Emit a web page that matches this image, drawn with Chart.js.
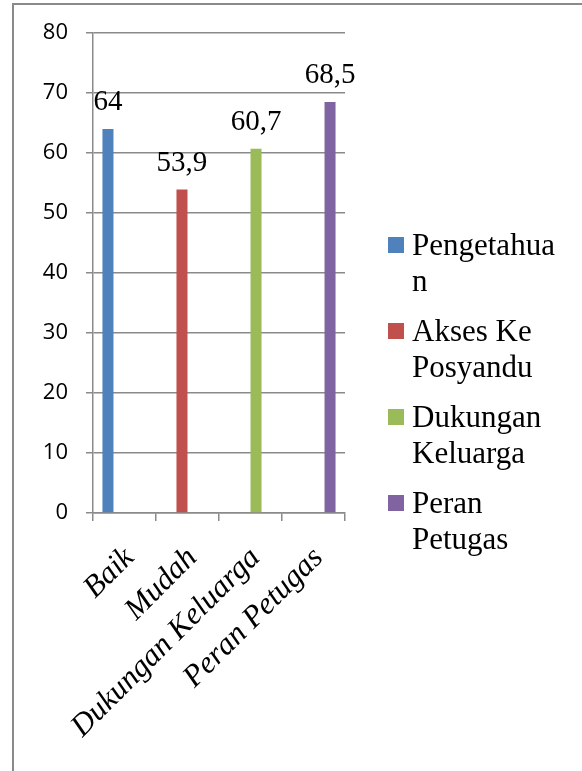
<!DOCTYPE html>
<html>
<head>
<meta charset="utf-8">
<script src="https://cdn.jsdelivr.net/npm/chart.js@4/dist/chart.umd.min.js"></script>
<style>
  html, body { margin: 0; padding: 0; background: #fff; }
  #wrap { position: relative; width: 582px; height: 771px; overflow: hidden; }
  #frame { position: absolute; left: 12px; top: 3px; right: -10px; bottom: -10px;
           border-left: 2px solid #8a8a8a; border-top: 2px solid #8a8a8a; }
  canvas { position: absolute; left: 0; top: 0; }
</style>
</head>
<body>
<div id="wrap">
  <div id="frame"></div>
  <canvas id="c" width="582" height="771"></canvas>
</div>
<script>
// ---- data ----
const categories = ['Baik', 'Mudah', 'Dukungan Keluarga', 'Peran Petugas'];
const seriesNames = ['Pengetahuan', 'Akses Ke Posyandu', 'Dukungan Keluarga', 'Peran Petugas'];
const seriesValues = [64, 53.9, 60.7, 68.5];
const seriesColors = ['#4F81BD', '#C0504D', '#9BBB59', '#8064A2'];
const yMin = 0, yMax = 80, yStep = 10;

const datasets = seriesNames.map((name, i) => ({
  label: name,
  data: categories.map((c, j) => (j === i ? seriesValues[i] : null)),
  backgroundColor: seriesColors[i],
  borderWidth: 0,
  categoryPercentage: 0.7,
  barPercentage: 1.0
}));

const GRID = '#8a8a8a';

function fmt(v) { return String(v).replace('.', ','); }

const valueLabels = {
  id: 'valueLabels',
  afterDatasetsDraw(chart) {
    const ctx = chart.ctx;
    ctx.save();
    ctx.font = '29px "Liberation Serif"';
    ctx.fillStyle = '#000';
    ctx.textAlign = 'center';
    ctx.textBaseline = 'alphabetic';
    chart.data.datasets.forEach((ds, i) => {
      const meta = chart.getDatasetMeta(i);
      ds.data.forEach((v, j) => {
        if (v === null || v === undefined) return;
        const el = meta.data[j];
        ctx.fillText(fmt(v), el.x, el.y - 19);
      });
    });
    ctx.restore();
  }
};

function wrapText(ctx, text, maxW) {
  const words = text.split(' ');
  const lines = [];
  let cur = '';
  words.forEach(w => {
    const test = cur ? cur + ' ' + w : w;
    if (ctx.measureText(test).width <= maxW) { cur = test; return; }
    if (cur) { lines.push(cur); cur = ''; }
    if (ctx.measureText(w).width <= maxW) { cur = w; return; }
    let part = '';
    for (const ch of w) {
      if (ctx.measureText(part + ch).width > maxW) { lines.push(part); part = ch; }
      else part += ch;
    }
    cur = part;
  });
  if (cur) lines.push(cur);
  return lines;
}

const sideLegend = {
  id: 'sideLegend',
  afterDraw(chart) {
    const ctx = chart.ctx;
    const area = chart.chartArea;
    ctx.save();
    ctx.font = '31px "Liberation Serif"';
    ctx.textBaseline = 'alphabetic';
    ctx.textAlign = 'left';
    const boxX = area.right + 43;
    const textX = area.right + 67;
    const lineH = 36, gap = 14;
    let base = area.top + 222;
    chart.data.datasets.forEach(ds => {
      ctx.fillStyle = ds.backgroundColor;
      ctx.fillRect(boxX, base - 18, 16, 16);
      ctx.fillStyle = '#000';
      const lines = wrapText(ctx, ds.label, 150);
      lines.forEach((ln, k) => ctx.fillText(ln, textX, base + k * lineH));
      base += lines.length * lineH + gap;
    });
    ctx.restore();
  }
};

new Chart(document.getElementById('c'), {
  type: 'bar',
  data: { labels: categories, datasets },
  options: {
    responsive: false,
    devicePixelRatio: 1,
    animation: false,
    layout: { padding: { top: 33, right: 237, left: 0, bottom: 0 } },
    plugins: { legend: { display: false }, tooltip: { enabled: false }, title: { display: false } },
    scales: {
      x: {
        grid: { display: true, drawOnChartArea: false, drawTicks: true, tickLength: 8, color: GRID, lineWidth: 1.5, offset: true },
        border: { display: true, color: GRID, width: 1.5 },
        ticks: {
          color: '#000',
          maxRotation: 45, minRotation: 45,
          autoSkip: false,
          padding: 19,
          labelOffset: 5,
          font: { family: 'Liberation Serif', style: 'italic', size: 31 }
        },
        afterFit(s) { s.height = 771 - 513; }
      },
      y: {
        min: yMin, max: yMax,
        grid: { color: GRID, lineWidth: 1.5, tickLength: 7, drawTicks: true },
        border: { display: true, color: GRID, width: 1.5 },
        ticks: {
          stepSize: yStep,
          color: '#000',
          padding: 18,
          font: { family: 'Open Sans', size: 22 }
        },
        afterFit(s) { s.width = 93; }
      }
    }
  },
  plugins: [valueLabels, sideLegend]
});
</script>
</body>
</html>
